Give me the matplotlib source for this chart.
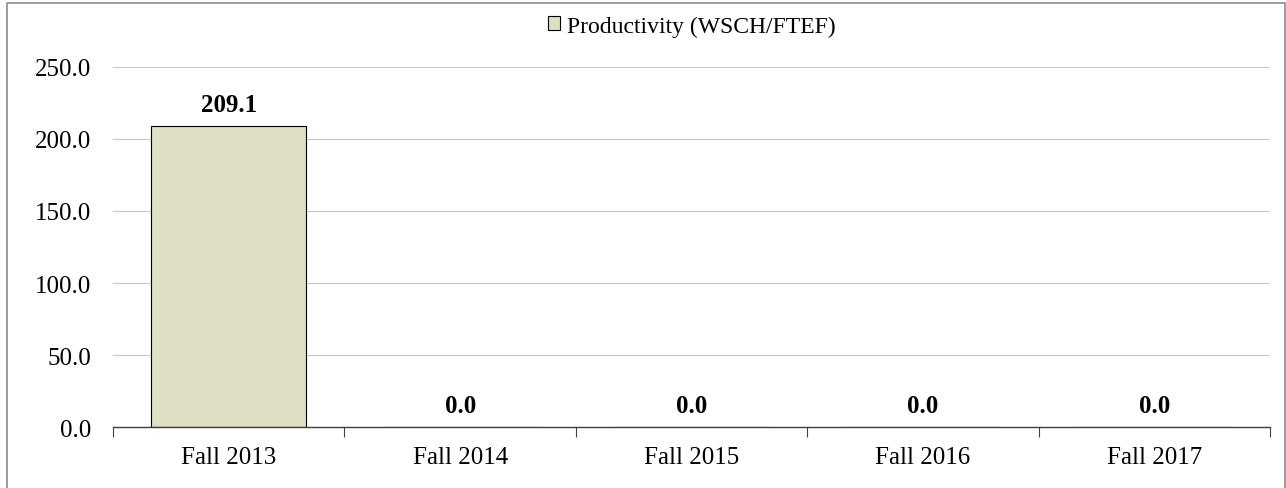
import matplotlib.pyplot as plt
from matplotlib.lines import Line2D

terms = ["Fall 2013", "Fall 2014", "Fall 2015", "Fall 2016", "Fall 2017"]
productivity = [209.1, 0.0, 0.0, 0.0, 0.0]
y_ticks = [0, 50, 100, 150, 200, 250]

plt.rcParams['font.family'] = ['Liberation Serif', 'DejaVu Serif']

fig = plt.figure(figsize=(12.86, 4.89), dpi=100)
ax = fig.add_axes([0.0879, 0.1247, 0.8997, 0.7363])

x = range(len(terms))
ax.bar(x, productivity, width=0.67, color="#DFDFC6", edgecolor="black",
       linewidth=0.8, label="Productivity (WSCH/FTEF)", zorder=3)

# value labels above bars
for i, val in enumerate(productivity):
    ax.text(i, val + 7, f"{val:.1f}", ha="center", va="bottom",
            fontsize=18, fontweight="bold")

ax.set_xlim(-0.5, len(terms) - 0.5)
ax.set_ylim(0, 250)
ax.set_yticks(y_ticks)
ax.set_yticklabels([f"{v:.1f}" for v in y_ticks], fontsize=18)
ax.set_xticks(list(x))
ax.set_xticklabels(terms, fontsize=18)
ax.tick_params(axis="x", length=0, pad=14)
ax.tick_params(axis="y", length=0, pad=16)

# category boundary ticks on the x axis
ax.set_xticks([i - 0.5 for i in range(len(terms) + 1)], minor=True)
ax.tick_params(axis="x", which="minor", length=7, width=0.8, direction="out", color="#404040")

ax.grid(axis="y", color="#C8C8C8", linewidth=0.8, zorder=0)
for s in ["top", "right", "left"]:
    ax.spines[s].set_visible(False)
ax.spines["bottom"].set_linewidth(1.0)
ax.spines["bottom"].set_color("#404040")
ax.spines["bottom"].set_zorder(4)

ax.legend(loc="center", bbox_to_anchor=(0.5, 1.114), frameon=False,
          fontsize=17, handlelength=0.5, handleheight=0.5, handletextpad=0.3)

# chart border (left, top, right)
bx0, bx1, by1 = 7 / 1286, 1285 / 1286, 1 - 4 / 489
fig.lines.append(Line2D([bx0, bx0, bx1, bx1], [0, by1, by1, 0], transform=fig.transFigure,
                        color="#8C8C8C", linewidth=1.2))

fig.savefig("out.png", dpi=100)
